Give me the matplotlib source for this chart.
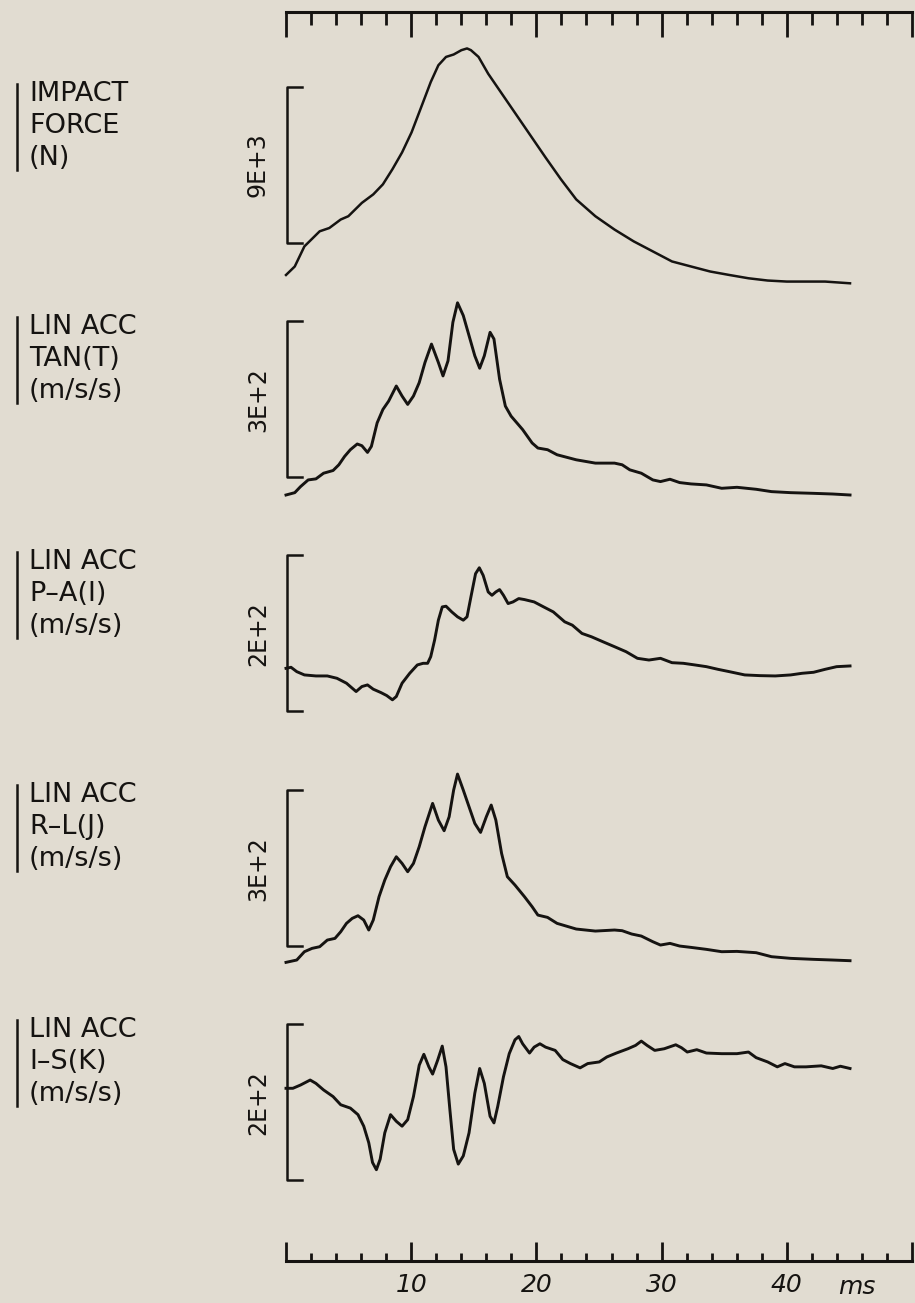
import numpy as np
import matplotlib.pyplot as plt
from matplotlib.ticker import FixedLocator, MultipleLocator

# ---- data (time in ms) ----
t_force = [0, 0.70, 1.47, 2.69, 3.46, 4.37, 4.98, 6.06, 6.97, 7.74, 8.50, 9.27, 10.03, 10.95,
           11.56, 12.17, 12.78, 13.39, 14.01, 14.46, 14.77, 15.38, 16.15, 17.06, 17.98, 18.90,
           19.82, 20.73, 21.96, 23.18, 24.71, 26.24, 27.77, 29.30, 30.83, 32.35, 33.88, 35.41,
           36.94, 38.47, 40.0, 41.53, 43.06, 45.05]
force = [480, 970, 2130, 3000, 3190, 3680, 3870, 4640, 5130, 5710, 6580, 7550, 8710, 10450,
         11610, 12580, 13060, 13200, 13450, 13550, 13450, 13060, 12090, 11130, 10160, 9190,
         8220, 7260, 6000, 4840, 3870, 3100, 2420, 1840, 1260, 970, 680, 480, 290, 160, 100,
         100, 100, 0]

t_tan = [0, 0.70, 1.16, 1.77, 2.39, 3.00, 3.76, 4.22, 4.68, 5.14, 5.69, 6.06, 6.51, 6.82, 7.28,
         7.74, 8.20, 8.81, 9.27, 9.72, 10.18, 10.64, 11.10, 11.62, 12.17, 12.54, 12.94, 13.33,
         13.70, 14.16, 14.62, 15.08, 15.47, 15.84, 16.30, 16.61, 17.06, 17.52, 17.98, 18.90,
         19.66, 20.12, 20.89, 21.65, 23.18, 24.71, 26.24, 26.85, 27.46, 28.38, 29.30, 29.91,
         30.67, 31.44, 32.35, 33.58, 34.80, 36.02, 37.55, 38.78, 40.31, 42.14, 43.67, 45.05]
acc_tan = [0, 4.5, 16.1, 29.0, 31.0, 41.9, 47.1, 58.1, 74.2, 87.1, 98.1, 94.8, 81.9, 93.5, 138.7,
           164.5, 180.6, 209.6, 190.3, 174.2, 190.3, 216.1, 254.8, 290.2, 254.8, 229.0, 258.0,
           332.2, 369.6, 345.1, 306.4, 267.7, 243.8, 267.7, 312.9, 300.0, 222.6, 171.0, 151.6,
           125.8, 100.0, 90.3, 87.1, 77.4, 67.7, 61.3, 61.3, 58.1, 48.4, 41.9, 29.0, 25.8, 30.3,
           23.9, 21.3, 19.4, 12.9, 14.8, 11.0, 6.5, 4.5, 3.2, 1.9, 0]

t_pa = [0, 0.40, 0.86, 1.47, 2.39, 3.30, 4.07, 4.83, 5.29, 5.60, 6.06, 6.51, 6.97, 7.58, 8.04,
        8.50, 8.81, 9.27, 9.88, 10.49, 10.95, 11.31, 11.56, 11.87, 12.17, 12.48, 12.78, 13.24,
        13.70, 14.16, 14.46, 14.77, 15.14, 15.44, 15.75, 16.15, 16.45, 16.76, 17.06, 17.37,
        17.74, 18.13, 18.59, 19.05, 19.82, 20.58, 21.35, 22.26, 22.87, 23.64, 24.40, 25.32,
        26.24, 27.16, 28.07, 28.99, 29.91, 30.83, 31.74, 32.66, 33.58, 34.50, 35.41, 36.64,
        37.86, 39.08, 40.31, 41.22, 42.14, 43.06, 43.98, 45.05]
acc_pa = [0, 1.3, -4.3, -8.5, -9.8, -9.8, -12.8, -19.1, -25.5, -29.8, -23.4, -21.3, -26.8, -31.1,
          -34.9, -40.4, -36.2, -19.1, -6.4, 4.3, 6.4, 6.4, 14.9, 36.2, 61.7, 78.7, 79.6, 72.3,
          66.0, 61.7, 66.0, 91.5, 121.3, 128.9, 119.1, 97.9, 93.6, 97.9, 100.9, 93.6, 83.0, 85.1,
          89.4, 88.1, 85.1, 78.7, 72.3, 59.6, 55.3, 44.7, 40.4, 34.0, 27.7, 21.3, 12.8, 10.6,
          12.8, 7.2, 6.4, 4.3, 2.1, -1.3, -4.3, -8.5, -9.4, -9.8, -8.5, -6.4, -5.1, -1.3, 2.1, 3.0]

t_rl = [0, 0.86, 1.47, 2.08, 2.69, 3.30, 3.91, 4.37, 4.83, 5.29, 5.75, 6.21, 6.61, 6.97, 7.43,
        7.89, 8.35, 8.81, 9.27, 9.72, 10.18, 10.64, 11.10, 11.71, 12.17, 12.63, 13.03, 13.39,
        13.70, 14.16, 14.62, 15.08, 15.54, 16.00, 16.39, 16.76, 17.22, 17.68, 18.29, 19.05,
        19.66, 20.12, 20.89, 21.65, 23.18, 24.71, 26.24, 26.85, 27.61, 28.38, 29.30, 29.91,
        30.67, 31.44, 32.35, 33.58, 34.80, 36.02, 37.55, 38.78, 40.31, 42.14, 43.67, 45.05]
acc_rl = [-3.2, 1.3, 17.3, 23.7, 26.9, 39.7, 42.9, 55.7, 71.8, 81.4, 86.5, 78.2, 59.0, 78.2,
          123.0, 155.1, 180.7, 199.9, 187.1, 171.1, 187.1, 219.2, 257.6, 302.5, 270.4, 249.9,
          276.8, 328.1, 358.9, 328.1, 296.0, 264.0, 246.7, 276.8, 299.3, 270.4, 206.3, 161.5,
          145.4, 123.0, 103.8, 87.7, 83.3, 71.8, 60.9, 57.0, 59.0, 57.7, 51.3, 47.4, 36.5, 30.1,
          33.3, 28.2, 25.6, 21.8, 17.3, 17.9, 15.4, 7.7, 4.5, 2.6, 1.3, 0]

t_is = [0, 0.55, 1.16, 1.93, 2.39, 3.00, 3.76, 4.37, 5.14, 5.75, 6.21, 6.61, 6.91, 7.22, 7.52,
        7.89, 8.35, 8.81, 9.27, 9.72, 10.18, 10.64, 11.01, 11.41, 11.71, 12.11, 12.48, 12.78,
        13.09, 13.39, 13.76, 14.16, 14.62, 15.08, 15.47, 15.84, 16.30, 16.61, 16.91, 17.37,
        17.83, 18.29, 18.59, 18.90, 19.45, 19.82, 20.28, 20.73, 21.50, 22.11, 22.72, 23.49,
        24.10, 25.02, 25.63, 26.39, 27.31, 27.92, 28.38, 28.84, 29.45, 30.21, 31.13, 31.59,
        32.05, 32.81, 33.58, 34.80, 36.02, 36.94, 37.55, 38.47, 39.24, 39.85, 40.61, 41.53,
        42.75, 43.67, 44.28, 45.05]
acc_is = [0, 0, 4.2, 10.6, 6.3, -2.1, -10.6, -21.1, -25.4, -33.8, -48.6, -69.8, -95.1, -104.4,
          -90.9, -57.1, -33.8, -42.3, -48.6, -40.2, -10.6, 29.6, 43.6, 27.5, 18.2, 35.9, 54.1,
          27.5, -27.5, -78.2, -97.2, -86.7, -57.1, -6.3, 25.4, 6.3, -35.9, -44.4, -23.3, 14.8,
          44.4, 62.2, 66.4, 57.1, 45.2, 52.8, 57.1, 52.8, 48.6, 36.8, 31.7, 26.2, 31.7, 33.8,
          40.2, 45.2, 50.7, 55.0, 60.5, 55.0, 48.6, 50.7, 55.8, 52.0, 46.5, 49.5, 45.2, 44.4,
          44.4, 46.5, 39.3, 33.8, 27.5, 31.7, 27.5, 27.5, 28.8, 25.4, 28.3, 25.4]

labels = [["IMPACT", "FORCE", "(N)"],
          ["LIN ACC", "TAN(T)", "(m/s/s)"],
          ["LIN ACC", "P\u2013A(I)", "(m/s/s)"],
          ["LIN ACC", "R\u2013L(J)", "(m/s/s)"],
          ["LIN ACC", "I\u2013S(K)", "(m/s/s)"]]
scale_text = ["9E+3", "3E+2", "2E+2", "3E+2", "2E+2"]
scales = [9000, 300, 200, 300, 200]
bracket_low = [2340, 34, -55, 28, -118]
tick_labels = ["", "10", "20", "30", "40", ""]

series = [(t_force, force), (t_tan, acc_tan), (t_pa, acc_pa), (t_rl, acc_rl), (t_is, acc_is)]

# ---- layout (pixels) ----
W, H = 915.0, 1303.0
x0_px, x1_px = 286, 912
bands = [(40, 300), (300, 530), (530, 760), (760, 990), (990, 1220)]
zero_px = [283.3, 495.0, 668.3, 960.7, 1088.3]
bracket_px = 156.0
label_top = [94, 327, 562, 795, 1030]

bg = "#e1dcd1"
ink = "#151311"

fig = plt.figure(figsize=(W / 100, H / 100), dpi=100)
fig.patch.set_facecolor(bg)

left = x0_px / W
width = (x1_px - x0_px) / W


def box(top, bot):
    return [left, 1 - bot / H, width, (bot - top) / H]


for i, (t, v) in enumerate(series):
    top, bot = bands[i]
    ax = fig.add_axes(box(top, bot))
    ax.patch.set_alpha(0)
    k = scales[i] / bracket_px
    ax.set_ylim((zero_px[i] - bot) * k, (zero_px[i] - top) * k)
    ax.set_xlim(0, 50)
    ax.axis("off")
    ax.plot(t, v, color=ink, lw=2.1 if i else 1.8, solid_joinstyle="round", clip_on=False)
    lo, hi = bracket_low[i], bracket_low[i] + scales[i]
    ax.plot([1.3, 0.05, 0.05, 1.3], [lo, lo, hi, hi], color=ink, lw=1.8, clip_on=False)
    ax.text(-2.25, (lo + hi) / 2, scale_text[i], rotation=90, ha="center", va="center",
            fontsize=17, color=ink, clip_on=False)

# top time axis
ax_top = fig.add_axes(box(12, 60))
ax_top.patch.set_alpha(0)
ax_top.set_xlim(0, 50)
for s in ["left", "right", "bottom"]:
    ax_top.spines[s].set_visible(False)
ax_top.spines["top"].set_linewidth(2.2)
ax_top.spines["top"].set_color(ink)
ax_top.xaxis.set_major_locator(FixedLocator([0, 10, 20, 30, 40, 50]))
ax_top.xaxis.set_minor_locator(MultipleLocator(2))
ax_top.tick_params(axis="x", which="both", top=True, bottom=False, labeltop=False,
                   labelbottom=False, direction="in", color=ink, width=2)
ax_top.tick_params(axis="x", which="major", length=18)
ax_top.tick_params(axis="x", which="minor", length=9)
ax_top.set_yticks([])

# bottom time axis
ax_bot = fig.add_axes(box(1210, 1261))
ax_bot.patch.set_alpha(0)
ax_bot.set_xlim(0, 50)
for s in ["left", "right", "top"]:
    ax_bot.spines[s].set_visible(False)
ax_bot.spines["bottom"].set_linewidth(2.2)
ax_bot.spines["bottom"].set_color(ink)
ax_bot.xaxis.set_major_locator(FixedLocator([0, 10, 20, 30, 40, 50]))
ax_bot.xaxis.set_minor_locator(MultipleLocator(2))
ax_bot.set_xticklabels(tick_labels, fontsize=18, style="italic", color=ink)
ax_bot.tick_params(axis="x", which="both", direction="in", color=ink, width=2, pad=9)
ax_bot.tick_params(axis="x", which="major", length=14)
ax_bot.tick_params(axis="x", which="minor", length=6)
ax_bot.set_yticks([])
ax_bot.text(45.6, -0.27, "ms", transform=ax_bot.get_xaxis_transform(), ha="center",
            va="top", fontsize=18, style="italic", color=ink, clip_on=False)

# left-hand channel labels (pixel overlay)
ov = fig.add_axes([0, 0, 1, 1])
ov.set_xlim(0, W)
ov.set_ylim(H, 0)
ov.axis("off")
ov.patch.set_alpha(0)
for i, lines in enumerate(labels):
    y = label_top[i]
    ov.plot([17, 17], [y - 10, y + 76], color=ink, lw=1.8)
    for j, s in enumerate(lines):
        ov.text(29, y + 32 * j, s, ha="left", va="center", fontsize=19.5, color=ink)

fig.savefig("out.png", dpi=100, facecolor=bg)
